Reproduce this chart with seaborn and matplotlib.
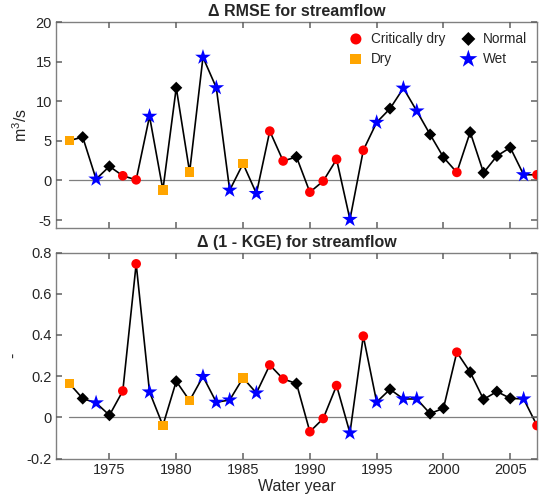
import numpy as np
import pandas as pd
import matplotlib
matplotlib.use("Agg")
import matplotlib.pyplot as plt
import seaborn as sns

years = list(range(1972, 2008))
categories = ["Dry", "Normal", "Wet", "Normal", "Critically dry", "Critically dry", "Wet", "Dry",
              "Normal", "Dry", "Wet", "Wet", "Wet", "Dry", "Wet", "Critically dry", "Critically dry",
              "Normal", "Critically dry", "Critically dry", "Critically dry", "Wet", "Critically dry",
              "Wet", "Normal", "Wet", "Wet", "Normal", "Normal", "Critically dry", "Normal", "Normal",
              "Normal", "Normal", "Wet", "Critically dry"]
rmse = [5.04, 5.47, 0.17, 1.78, 0.59, 0.08, 8.1, -1.19, 11.7, 1.06, 15.55, 11.7, -1.23, 2.12,
        -1.65, 6.23, 2.46, 2.97, -1.48, -0.08, 2.67, -4.92, 3.81, 7.33, 9.07, 11.65, 8.77, 5.8,
        2.92, 1.02, 6.1, 0.97, 3.09, 4.15, 0.72, 0.72]
kge = [0.164, 0.091, 0.070, 0.010, 0.128, 0.745, 0.123, -0.040, 0.175, 0.081, 0.198, 0.073,
       0.084, 0.191, 0.118, 0.254, 0.186, 0.164, -0.070, -0.006, 0.154, -0.076, 0.394, 0.074,
       0.136, 0.089, 0.089, 0.018, 0.044, 0.316, 0.219, 0.087, 0.125, 0.092, 0.089, -0.040]

cat_order = ["Critically dry", "Dry", "Normal", "Wet"]
palette = {"Critically dry": "#ff0000", "Dry": "#ffa500", "Normal": "#000000", "Wet": "#0000ff"}
markers = {"Critically dry": "o", "Dry": "s", "Normal": "D", "Wet": "*"}
sizes = {"Critically dry": 48, "Dry": 46, "Normal": 38, "Wet": 140}

df = pd.DataFrame({"year": years, "rmse": rmse, "kge": kge, "cat": categories})

gray = "#808080"
sns.set_style("ticks", {"xtick.direction": "in", "ytick.direction": "in",
                        "axes.edgecolor": gray, "axes.axisbelow": False})
plt.rcParams["font.family"] = ["Liberation Sans", "DejaVu Sans"]
plt.rcParams["mathtext.fontset"] = "custom"
plt.rcParams["mathtext.rm"] = "Liberation Sans"

fig = plt.figure(figsize=(5.43, 5.0), dpi=100)
W, H = 543, 500
ax1 = fig.add_axes([56 / W, 1 - 228 / H, 481 / W, 206 / H])
ax2 = fig.add_axes([56 / W, 1 - 458.5 / H, 481 / W, 206 / H])


def draw(ax, col, ylim, yticks, title, ylabel):
    ax.plot([1972, 2007], [0, 0], color="#7f7f7f", lw=0.9, zorder=1)
    sns.lineplot(data=df, x="year", y=col, color="black", lw=1.2, ax=ax, zorder=2)
    for c in cat_order:
        sub = df[df["cat"] == c]
        sns.scatterplot(data=sub, x="year", y=col, color=palette[c], marker=markers[c],
                        s=sizes[c], edgecolor="none", linewidth=0, ax=ax, zorder=3,
                        label=c)
    ax.set_xlim(1971, 2007)
    ax.set_ylim(*ylim)
    ax.set_yticks(yticks)
    ax.set_xticks([1975, 1980, 1985, 1990, 1995, 2000, 2005])
    ax.tick_params(direction="in", length=4.5, width=1.1, color="#606060",
                   bottom=True, left=True, top=True, right=True,
                   labelsize=10.5, labelcolor="#262626", pad=3)
    for s in ax.spines.values():
        s.set_visible(True)
        s.set_color(gray)
        s.set_linewidth(1.0)
    ax.set_title(title, fontsize=11.5, fontweight="bold", pad=4)
    ax.set_ylabel(ylabel, fontsize=11.5, color="#262626", labelpad=4)
    ax.set_xlabel("")

draw(ax1, "rmse", (-6, 20), [-5, 0, 5, 10, 15, 20], "Δ RMSE for streamflow", "m$^3$/s")
draw(ax2, "kge", (-0.2, 0.8), [-0.2, 0, 0.2, 0.4, 0.6, 0.8], "Δ (1 - KGE) for streamflow", "-")
ax1.set_xticklabels([])
ax2.set_yticklabels(["-0.2", "0", "0.2", "0.4", "0.6", "0.8"])
ax1.set_yticklabels(["-5", "0", "5", "10", "15", "20"])
ax2.set_xlabel("Water year", fontsize=11.5, color="#262626", labelpad=2)
ax2.get_legend().remove()

handles, labels = ax1.get_legend_handles_labels()
ax1.legend(handles, labels, ncol=2, frameon=False, loc="upper right",
           bbox_to_anchor=(1.0, 1.0), fontsize=9.8, handletextpad=0.1,
           columnspacing=0.7, labelspacing=0.45, borderaxespad=0.3, markerscale=1.15)

fig.savefig("out.png", dpi=100)
